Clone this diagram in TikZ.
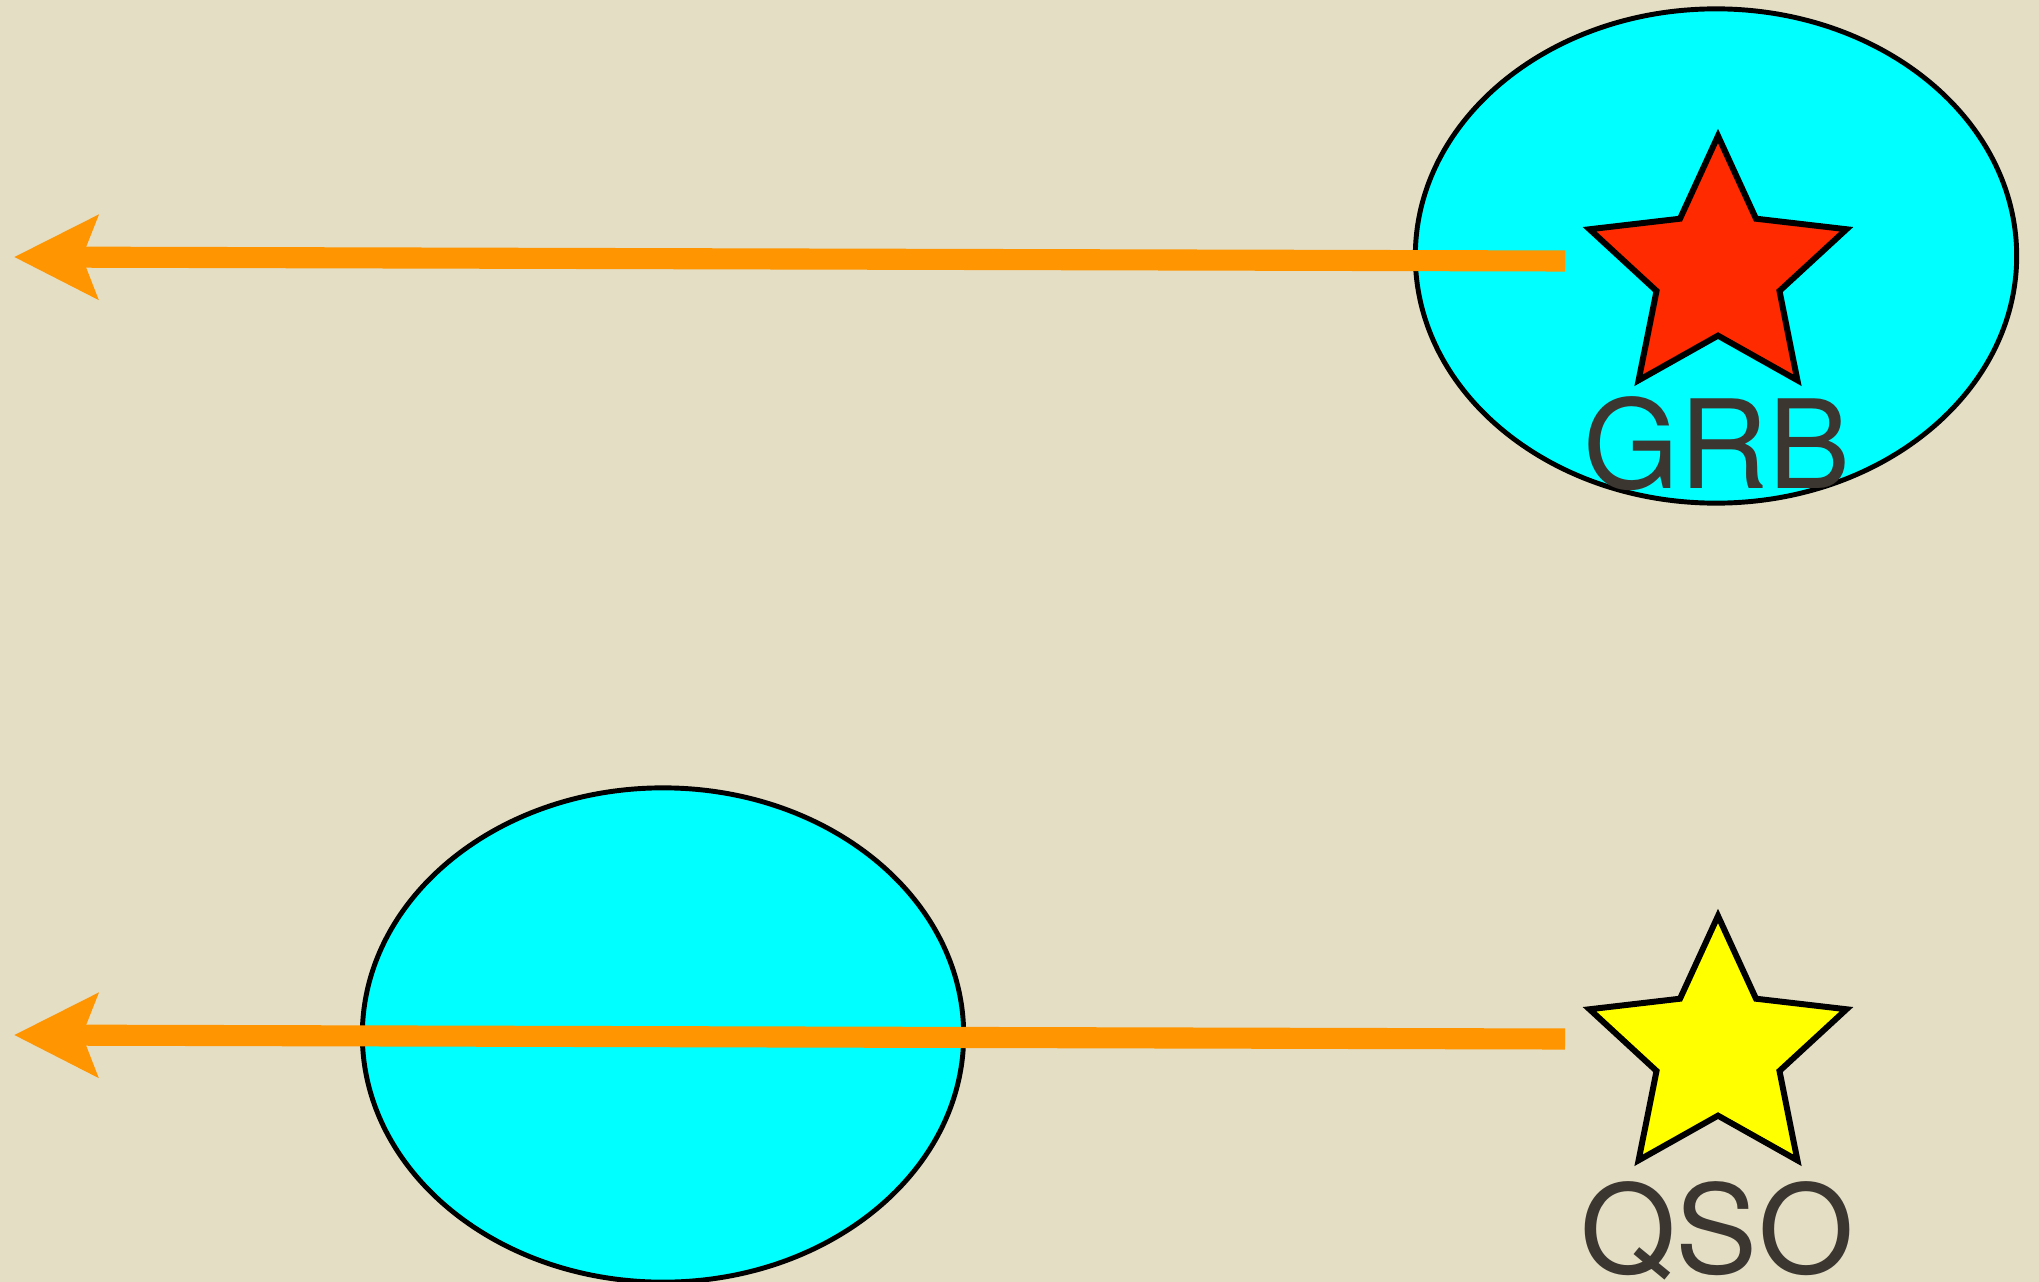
\documentclass[tikz,border=0pt]{standalone}
\usepackage{fontspec}
\setmainfont{TeX Gyre Heros}
\usetikzlibrary{shapes.geometric,arrows.meta}
\definecolor{paper}{HTML}{E4DEC5}
\definecolor{halo}{HTML}{00FFFF}
\definecolor{beam}{HTML}{FF9500}
\definecolor{burst}{HTML}{FF2A00}
\definecolor{quasar}{HTML}{FFFF00}
\definecolor{ink}{HTML}{3B3630}
\tikzset{
  galaxy/.style={ellipse,draw=black,fill=halo,line width=1.4pt,inner sep=0pt,
                 minimum width=6.01cm,minimum height=4.94cm},
  source/.style={star,star points=5,star point ratio=2.09,draw=black,
                 line width=1.7pt,inner sep=0pt,minimum size=2.70cm},
  ray/.style={draw=beam,line width=6pt,
              -{Stealth[length=8.3mm,width=8.2mm,inset=1.5mm]}},
  tag/.style={text=ink,font=\fontsize{35}{42}\selectfont,inner sep=0pt,
              anchor=base}
}
\begin{document}
\begin{tikzpicture}[x=0.01cm,y=-0.01cm]
  \fill[paper] (0,0) rectangle (2039,1282);
  \useasboundingbox (0,0) rectangle (2039,1282);

  % Upper row: the burst sits inside its own host.
  \node[galaxy] (host) at (1716,256) {};
  \coordinate (grbsrc) at (1565,261);
  \coordinate (grbend) at (14,257);
  \draw[ray] (grbsrc) -- (grbend);
  \node[source,fill=burst] (grb) at (1718,271) {};
  \node[tag] (grblabel) at (1717,488) {GRB};

  % Lower row: a foreground galaxy crosses the quasar sight line.
  \node[galaxy] (absorber) at (663,1035) {};
  \coordinate (qsosrc) at (1565,1039);
  \coordinate (qsoend) at (14,1035);
  \draw[ray] (qsosrc) -- (qsoend);
  \node[source,fill=quasar] (qso) at (1718,1051) {};
  \node[tag] (qsolabel) at (1717,1273) {QSO};
\end{tikzpicture}
\end{document}
